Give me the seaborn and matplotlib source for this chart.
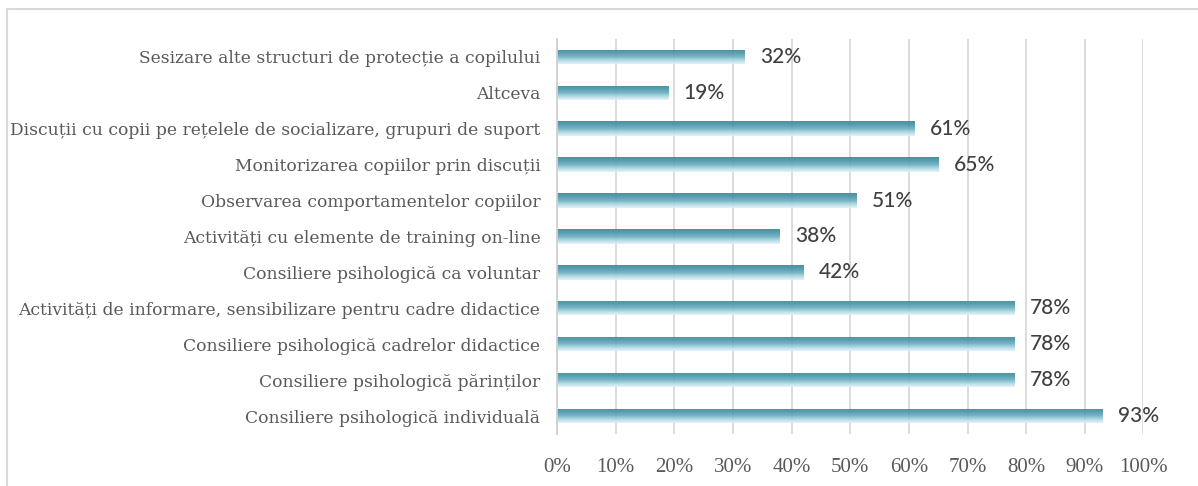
import numpy as np
import pandas as pd
import matplotlib
matplotlib.use("Agg")
import matplotlib.pyplot as plt
import seaborn as sns
from matplotlib.colors import LinearSegmentedColormap
from matplotlib.lines import Line2D

categories = [
    "Sesizare alte structuri de protecție a copilului",
    "Altceva",
    "Discuții cu copii pe rețelele de socializare, grupuri de suport",
    "Monitorizarea copiilor prin discuții",
    "Observarea comportamentelor copiilor",
    "Activități cu elemente de training on-line",
    "Consiliere psihologică ca voluntar",
    "Activități de informare, sensibilizare pentru cadre didactice",
    "Consiliere psihologică cadrelor didactice",
    "Consiliere psihologică părinților",
    "Consiliere psihologică individuală",
]
values = [32, 19, 61, 65, 51, 38, 42, 78, 78, 78, 93]
tick_values = list(range(0, 101, 10))
tick_labels = [f"{v}%" for v in tick_values]

df = pd.DataFrame({"cat": categories, "val": values})

sns.set_theme(style="white")
plt.rcParams["font.family"] = ["Liberation Serif", "DejaVu Serif"]

fig = plt.figure(figsize=(11.98, 4.86), dpi=100)
ax = fig.add_axes([0.465, 0.107, 0.4895, 0.813])

sns.barplot(data=df, y="cat", x="val", orient="h", color="#4a96a8",
            width=0.4, ax=ax, zorder=2)

# vertical cylinder-like shading for every bar
shade = LinearSegmentedColormap.from_list(
    "shade", ["#3a8798", "#4b97a9", "#6aaebe", "#a9d6e1", "#e4f3f7"])
grad = np.linspace(0, 1, 64).reshape(-1, 1)
for p in ax.patches:
    x0, y0 = p.get_x(), p.get_y()
    w, h = p.get_width(), p.get_height()
    p.set_facecolor("none")
    p.set_edgecolor("none")
    im = ax.imshow(grad, cmap=shade, aspect="auto", alpha=0.92,
                   extent=(x0, x0 + w, y0 + h, y0), origin="upper",
                   zorder=2, interpolation="bilinear")
    im.set_clip_path(p)

ax.set_xlim(0, 100)
ax.set_ylim(len(categories) - 0.5, -0.5)
ax.set_xticks(tick_values)
ax.set_xticklabels(tick_labels)
ax.xaxis.grid(True, color="#d9d9d9", linewidth=1.3, zorder=1)
ax.yaxis.grid(False)
ax.set_axisbelow(True)
for s in ["top", "right", "bottom"]:
    ax.spines[s].set_visible(False)
ax.spines["left"].set_color("#d0d0d0")
ax.spines["left"].set_linewidth(1.3)
ax.set_xlabel("")
ax.set_ylabel("")
ax.tick_params(axis="x", length=0, pad=17, labelsize=15, labelcolor="#595959")
ax.tick_params(axis="y", length=0, pad=12, labelsize=12.3, labelcolor="#595959")
for lbl in ax.get_yticklabels():
    lbl.set_family(["DejaVu Serif"])

for i, v in enumerate(values):
    ax.text(v + 2.6, i, f"{v}%", va="center", ha="left", fontsize=15,
            color="#404040", family=["Lato", "DejaVu Sans"], fontweight="medium")

# outer chart frame
fig.add_artist(Line2D([0.0055, 0.0055], [0.0, 0.982], transform=fig.transFigure,
                      color="#d9d9d9", linewidth=1.5))
fig.add_artist(Line2D([0.0055, 1.0], [0.982, 0.982], transform=fig.transFigure,
                      color="#d9d9d9", linewidth=1.5))

fig.savefig("out.png", dpi=100, facecolor="white")
